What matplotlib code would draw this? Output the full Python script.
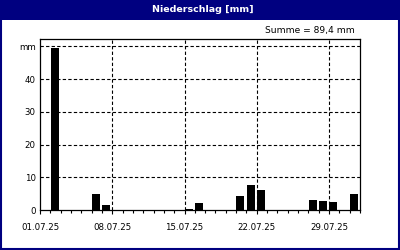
import matplotlib
matplotlib.use("Agg")
import matplotlib.pyplot as plt
import matplotlib.dates as mdates
from matplotlib.patches import Rectangle
import datetime as dt

# Data
dates = ["2025-07-02", "2025-07-06", "2025-07-07", "2025-07-15", "2025-07-16",
         "2025-07-20", "2025-07-21", "2025-07-22", "2025-07-27", "2025-07-28",
         "2025-07-29", "2025-07-31"]
values = [49.6, 4.9, 1.6, 0.3, 2.1, 4.3, 7.7, 6.1, 3.1, 2.8, 2.5, 4.9]
major_dates = ["2025-07-01", "2025-07-08", "2025-07-15", "2025-07-22", "2025-07-29"]
major_labels = ["01.07.25", "08.07.25", "15.07.25", "22.07.25", "29.07.25"]
y_ticks = [0, 10, 20, 30, 40, 50]
y_labels = ["0", "10", "20", "30", "40", "mm"]
title = "Niederschlag [mm]"
summe = "Summe = 89,4 mm"

NAVY = "#000080"
W, H = 400, 250
fig = plt.figure(figsize=(4, 2.5), dpi=100, facecolor="white")

# Title bar and frame
fig.patches.append(Rectangle((0, 1 - 20 / H), 1, 20 / H, transform=fig.transFigure,
                             facecolor=NAVY, edgecolor="none", zorder=0))
fig.patches.append(Rectangle((1 / W, 1 / H), 1 - 2 / W, 1 - 2 / H, transform=fig.transFigure,
                             facecolor="none", edgecolor=NAVY, linewidth=1.5, zorder=1))
fig.text(203 / W, 1 - 9.5 / H, title, color="white", fontsize=6.8, fontweight="bold",
         ha="center", va="center", family="DejaVu Sans")
fig.text(355 / W, 1 - 31 / H, summe, color="black", fontsize=6.6,
         ha="right", va="center", family="DejaVu Sans")

ax = fig.add_axes([40 / W, 40 / H, 320 / W, (210.3 - 39.7) / H])
ax.set_facecolor("white")

x = [mdates.date2num(dt.datetime.strptime(d, "%Y-%m-%d")) + 0.03 for d in dates]
ax.bar(x, values, width=0.77, align="edge", color="black", zorder=3)

x0 = mdates.date2num(dt.datetime(2025, 7, 1))
x1 = mdates.date2num(dt.datetime(2025, 8, 1))
ax.set_xlim(x0, x1)
ax.set_ylim(0, 52.1)

majors = [mdates.date2num(dt.datetime.strptime(d, "%Y-%m-%d")) for d in major_dates]
ax.set_xticks(majors)
ax.set_xticklabels(major_labels)
ax.xaxis.set_minor_locator(mdates.DayLocator())
ax.set_yticks(y_ticks)
ax.set_yticklabels(y_labels)

ax.tick_params(axis="both", which="both", labelsize=6.2, colors="black", width=0.8)
ax.tick_params(axis="x", which="major", length=3, pad=6)
ax.tick_params(axis="x", which="minor", length=2.5)
ax.tick_params(axis="y", which="major", length=0, pad=3)

for s in ax.spines.values():
    s.set_color("black")
    s.set_linewidth(0.9)

for yv in y_ticks[1:]:
    ax.axhline(yv, color="black", linewidth=0.8, linestyle=(0, (3, 2)), zorder=1)
for xv in majors[1:]:
    ax.axvline(xv, color="black", linewidth=0.8, linestyle=(0, (3, 2)), zorder=1)

fig.savefig("out.png", dpi=100, facecolor="white")
